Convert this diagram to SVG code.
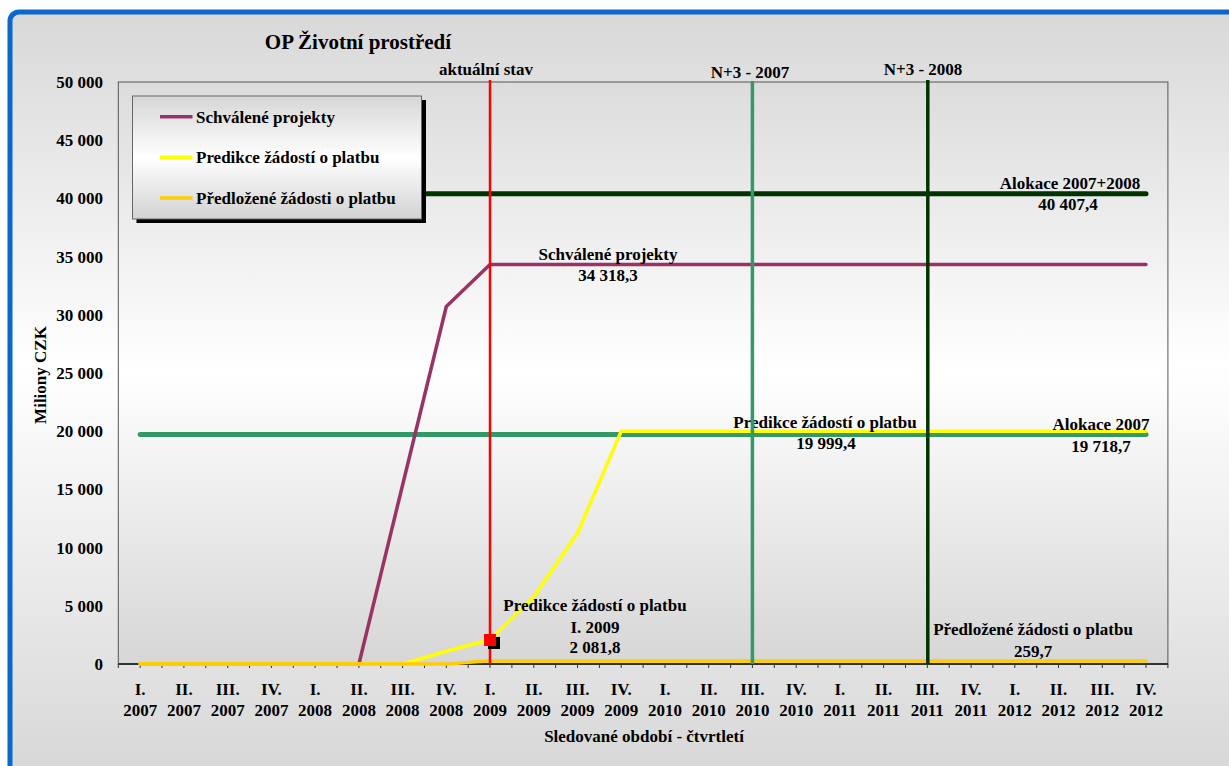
<svg xmlns="http://www.w3.org/2000/svg" width="1229" height="766" viewBox="0 0 1229 766">
<defs>
<linearGradient id="gChart" gradientUnits="userSpaceOnUse" x1="0" y1="12" x2="0" y2="766">
<stop offset="0" stop-color="#d8d8d8"/><stop offset="0.47" stop-color="#ffffff"/><stop offset="1" stop-color="#d8d8d8"/>
</linearGradient>
<linearGradient id="gPlot" gradientUnits="userSpaceOnUse" x1="0" y1="82" x2="0" y2="664">
<stop offset="0" stop-color="#dcdcdc"/><stop offset="0.5" stop-color="#ffffff"/><stop offset="1" stop-color="#d6d6d6"/>
</linearGradient>
<linearGradient id="gLeg" gradientUnits="userSpaceOnUse" x1="0" y1="96" x2="0" y2="219">
<stop offset="0" stop-color="#d6d6d6"/><stop offset="0.5" stop-color="#ffffff"/><stop offset="1" stop-color="#d2d2d2"/>
</linearGradient>
<style>
text{font-family:"Liberation Serif","Times New Roman",serif;font-weight:bold;font-size:17px;fill:#000}
.mid{text-anchor:middle}
.end{text-anchor:end}
.ser{fill:none;stroke-linecap:round;stroke-linejoin:round}
.purple{stroke:#993366;stroke-width:3.5}
.yellow{stroke:#ffff00;stroke-width:3.5}
.orange{stroke:#ffcc00;stroke-width:3.5}
.green{stroke:#339966;stroke-width:5}
.dgreen{stroke:#003300;stroke-width:5}
</style>
</defs>
<rect width="1229" height="766" fill="#ffffff"/>
<g id="frame">
<rect x="10" y="12" width="1240" height="780" rx="9" fill="url(#gChart)" stroke="#0b67c9" stroke-width="5"/>
</g>
<g id="plot">
<rect x="118.3" y="82" width="1049.6" height="582" fill="url(#gPlot)" stroke="#555" stroke-width="1"/>
</g>
<g id="title">
<text class="mid" x="358" y="49" style="font-size:21px">OP Životní prostředí</text>
</g>
<g id="yaxis">
<text class="end" x="103" y="670">0</text>
<text class="end" x="103" y="612">5 000</text>
<text class="end" x="103" y="554">10 000</text>
<text class="end" x="103" y="495">15 000</text>
<text class="end" x="103" y="437">20 000</text>
<text class="end" x="103" y="379">25 000</text>
<text class="end" x="103" y="321">30 000</text>
<text class="end" x="103" y="263">35 000</text>
<text class="end" x="103" y="204">40 000</text>
<text class="end" x="103" y="146">45 000</text>
<text class="end" x="103" y="88">50 000</text>
<text class="mid" transform="translate(46,375) rotate(-90)">Miliony CZK</text>
</g>
<g id="xaxis">
<path d="M118.3 664H1167.9" stroke="#333" stroke-width="2"/>
<path stroke="#333" stroke-width="1" d="M118.3 664v4M140.2 664v4M162 664v4M183.9 664v4M205.8 664v4M227.7 664v4M249.5 664v4M271.4 664v4M293.3 664v4M315.1 664v4M337 664v4M358.9 664v4M380.7 664v4M402.6 664v4M424.5 664v4M446.3 664v4M468.2 664v4M490 664v4M511.9 664v4M533.8 664v4M555.6 664v4M577.5 664v4M599.4 664v4M621.2 664v4M643.1 664v4M665 664v4M686.8 664v4M708.7 664v4M730.6 664v4M752.4 664v4M774.3 664v4M796.2 664v4M818 664v4M839.9 664v4M861.8 664v4M883.6 664v4M905.5 664v4M927.3 664v4M949.2 664v4M971.1 664v4M992.9 664v4M1014.8 664v4M1036.7 664v4M1058.5 664v4M1080.4 664v4M1102.3 664v4M1124.1 664v4M1146 664v4M1167.9 664v4"/>
<g class="mid">
<text class="mid" x="140.2" y="695">I.</text><text class="mid" x="140.2" y="716">2007</text>
<text class="mid" x="183.9" y="695">II.</text><text class="mid" x="183.9" y="716">2007</text>
<text class="mid" x="227.7" y="695">III.</text><text class="mid" x="227.7" y="716">2007</text>
<text class="mid" x="271.4" y="695">IV.</text><text class="mid" x="271.4" y="716">2007</text>
<text class="mid" x="315.1" y="695">I.</text><text class="mid" x="315.1" y="716">2008</text>
<text class="mid" x="358.9" y="695">II.</text><text class="mid" x="358.9" y="716">2008</text>
<text class="mid" x="402.6" y="695">III.</text><text class="mid" x="402.6" y="716">2008</text>
<text class="mid" x="446.3" y="695">IV.</text><text class="mid" x="446.3" y="716">2008</text>
<text class="mid" x="490" y="695">I.</text><text class="mid" x="490" y="716">2009</text>
<text class="mid" x="533.8" y="695">II.</text><text class="mid" x="533.8" y="716">2009</text>
<text class="mid" x="577.5" y="695">III.</text><text class="mid" x="577.5" y="716">2009</text>
<text class="mid" x="621.2" y="695">IV.</text><text class="mid" x="621.2" y="716">2009</text>
<text class="mid" x="665" y="695">I.</text><text class="mid" x="665" y="716">2010</text>
<text class="mid" x="708.7" y="695">II.</text><text class="mid" x="708.7" y="716">2010</text>
<text class="mid" x="752.4" y="695">III.</text><text class="mid" x="752.4" y="716">2010</text>
<text class="mid" x="796.2" y="695">IV.</text><text class="mid" x="796.2" y="716">2010</text>
<text class="mid" x="839.9" y="695">I.</text><text class="mid" x="839.9" y="716">2011</text>
<text class="mid" x="883.6" y="695">II.</text><text class="mid" x="883.6" y="716">2011</text>
<text class="mid" x="927.3" y="695">III.</text><text class="mid" x="927.3" y="716">2011</text>
<text class="mid" x="971.1" y="695">IV.</text><text class="mid" x="971.1" y="716">2011</text>
<text class="mid" x="1014.8" y="695">I.</text><text class="mid" x="1014.8" y="716">2012</text>
<text class="mid" x="1058.5" y="695">II.</text><text class="mid" x="1058.5" y="716">2012</text>
<text class="mid" x="1102.3" y="695">III.</text><text class="mid" x="1102.3" y="716">2012</text>
<text class="mid" x="1146" y="695">IV.</text><text class="mid" x="1146" y="716">2012</text>
</g>
<text class="mid" x="644" y="742">Sledované období - čtvrtletí</text>
</g>
<g id="series">
<path class="ser green" d="M140.2 434.5H1146"/>
<path class="ser dgreen" d="M140.2 193.7H1146"/>
<path class="ser purple" d="M140.2 664H358.9L402.6 485L446.3 306.5L490 264.5H1146"/>
<path class="ser yellow" d="M140.2 664H402.6L446.3 651.2L490 639.8L533.8 596.7L577.5 533.3L621.2 431.2H1146"/>
<path class="ser orange" d="M140.2 664H446.3C462 664 470 661 490 661H1146"/>
</g>
<g id="data-labels">
<text class="mid" x="1070" y="189">Alokace 2007+2008</text>
<text class="mid" x="1068" y="210">40 407,4</text>
<text class="mid" x="608" y="260">Schválené projekty</text>
<text class="mid" x="608" y="281">34 318,3</text>
<text class="mid" x="825" y="428">Predikce žádostí o platbu</text>
<text class="mid" x="826" y="449">19 999,4</text>
<text class="mid" x="1101" y="430">Alokace 2007</text>
<text class="mid" x="1101" y="452">19 718,7</text>
<text class="mid" x="595" y="611">Predikce žádostí o platbu</text>
<text class="mid" x="595" y="633">I. 2009</text>
<text class="mid" x="595" y="653">2 081,8</text>
<text class="mid" x="1033" y="635">Předložené žádosti o platbu</text>
<text class="mid" x="1033" y="657">259,7</text>
</g>
<g id="markers">
<line x1="490" y1="80" x2="490" y2="664" stroke="#ff0000" stroke-width="2.5"/>
<line x1="752.4" y1="81" x2="752.4" y2="664" stroke="#339966" stroke-width="3.5"/>
<line x1="927.8" y1="80" x2="927.8" y2="664" stroke="#003300" stroke-width="3.5"/>
<text class="mid" x="486" y="75">aktuální stav</text>
<text class="mid" x="750" y="78">N+3 - 2007</text>
<text class="mid" x="923" y="75">N+3 - 2008</text>
<rect x="488" y="637" width="12" height="12" fill="#000"/>
<rect x="484" y="634" width="12" height="12" fill="#ff0000"/>
</g>
<g id="legend">
<rect x="136.5" y="100" width="289.5" height="123" fill="#000"/>
<rect x="132.5" y="96" width="289" height="123" fill="url(#gLeg)" stroke="#666" stroke-width="1"/>
<line x1="160" y1="116.7" x2="192.5" y2="116.7" stroke="#993366" stroke-width="3.5"/>
<line x1="160" y1="157.3" x2="192.5" y2="157.3" stroke="#ffff00" stroke-width="3.5"/>
<line x1="160" y1="198" x2="192.5" y2="198" stroke="#ffcc00" stroke-width="3.5"/>
<text x="196" y="122.5">Schválené projekty</text>
<text x="196" y="163">Predikce žádostí o platbu</text>
<text x="196" y="204">Předložené žádosti o platbu</text>
</g>
</svg>
